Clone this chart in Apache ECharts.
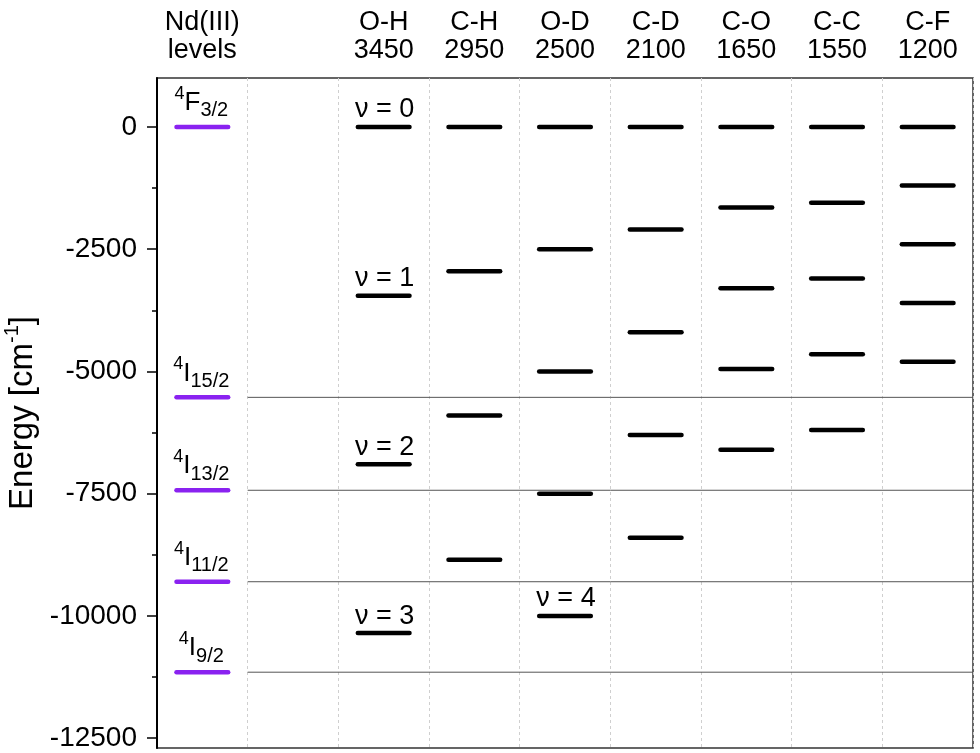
<!DOCTYPE html>
<html>
<head>
<meta charset="utf-8">
<script src="https://cdn.jsdelivr.net/npm/echarts@6/dist/echarts.min.js"></script>
<style>html,body{margin:0;padding:0;background:#fff}#c{width:980px;height:753px}</style>
</head>
<body>
<div id="c"></div>
<script>
// ---- data ----
const columnHeaders = ['Nd(III)\nlevels', '', 'O-H\n3450', 'C-H\n2950', 'O-D\n2500', 'C-D\n2100', 'C-O\n1650', 'C-C\n1550', 'C-F\n1200'];
const ndLevels = [0, -5530, -7430, -9300, -11150];
const ndTermSup = ['4', '4', '4', '4', '4'];
const ndTermLetter = ['F', 'I', 'I', 'I', 'I'];
const ndTermSub = ['3/2', '15/2', '13/2', '11/2', '9/2'];
const levelsOH = [0, -3450, -6900, -10350];
const levelsCH = [0, -2950, -5900, -8850];
const levelsOD = [0, -2500, -5000, -7500, -10000];
const levelsCD = [0, -2100, -4200, -6300, -8400];
const levelsCO = [0, -1650, -3300, -4950, -6600];
const levelsCC = [0, -1550, -3100, -4650, -6200];
const levelsCF = [0, -1200, -2400, -3600, -4800];
const labelsOH = ['ν = 0', 'ν = 1', 'ν = 2', 'ν = 3'];
const labelsOD = ['', '', '', '', 'ν = 4'];
const yMajorTicks = [0, -2500, -5000, -7500, -10000, -12500];
const yMinorTicks = [-1250, -3750, -6250, -8750, -11250];

const FONT = '"Liberation Sans", Arial, Helvetica, sans-serif';

// build vibrational level items: [column center, energy]
const vibGroups = [levelsOH, levelsCH, levelsOD, levelsCD, levelsCO, levelsCC, levelsCF];
const vibLabelGroups = [labelsOH, [], labelsOD, [], [], [], []];
const vibData = [];
const vibText = [];
vibGroups.forEach(function (arr, g) {
  arr.forEach(function (v, i) {
    vibData.push([g + 2.5, v]);
    vibText.push(vibLabelGroups[g][i] || '');
  });
});
const ndData = ndLevels.map(function (v) { return [0.5, v]; });

const chart = echarts.init(document.getElementById('c'), null, {renderer: 'canvas'});
chart.setOption({
  animation: false,
  backgroundColor: '#fff',
  grid: {left: 157, right: 7, top: 78, bottom: 5, show: true, borderColor: '#333', borderWidth: 1.5,
         containLabel: false, outerBoundsMode: 'none'},
  xAxis: [
    {
      type: 'value', min: 0, max: 9, splitNumber: 9,
      axisLine: {show: false}, axisTick: {show: false}, axisLabel: {show: false},
      splitLine: {show: true, lineStyle: {color: '#cfcfcf', type: [3, 3], width: 1}}
    },
    {
      type: 'category', position: 'top', data: columnHeaders, boundaryGap: true,
      axisLine: {show: false}, axisTick: {show: false}, splitLine: {show: false},
      axisLabel: {interval: 0, color: '#000', fontFamily: FONT, fontSize: 27, lineHeight: 28, margin: 13}
    }
  ],
  yAxis: [
    {
      type: 'value', min: -12700, max: 1000,
      name: '{a|Energy [cm}{s|-1}{a|]}', nameLocation: 'middle', nameGap: 112,
      nameTextStyle: {
        color: '#000',
        rich: {
          a: {fontFamily: FONT, fontSize: 33, lineHeight: 40, color: '#000'},
          s: {fontFamily: FONT, fontSize: 20, lineHeight: 22, verticalAlign: 'top', color: '#000'}
        }
      },
      axisLine: {show: true, lineStyle: {color: '#000', width: 2}},
      axisTick: {show: true, length: 10, customValues: yMajorTicks, lineStyle: {color: '#000', width: 1.5}},
      axisLabel: {customValues: yMajorTicks, color: '#000', fontFamily: FONT, fontSize: 28, margin: 20,
                  formatter: function (v) { return String(v); }},
      splitLine: {show: false}
    },
    {
      type: 'value', min: -12700, max: 1000, position: 'left',
      axisLine: {show: false},
      axisTick: {show: true, length: 5, customValues: yMinorTicks, lineStyle: {color: '#000', width: 1.5}},
      axisLabel: {show: false},
      splitLine: {show: false}
    }
  ],
  series: [
    {
      type: 'custom', name: 'Nd levels', xAxisIndex: 0, yAxisIndex: 0, data: ndData,
      renderItem: function (params, api) {
        const i = params.dataIndex;
        const x = api.value(0), y = api.value(1);
        const c = api.coord([x, y]);
        const w = api.size([1, 0])[0];
        const half = w * 0.285;
        const children = [];
        if (i > 0) {
          const a = api.coord([1, y]);
          const b = api.coord([9, y]);
          children.push({type: 'line', shape: {x1: a[0], y1: a[1], x2: b[0], y2: b[1]}, style: {stroke: '#555', lineWidth: 1}});
        }
        children.push({type: 'line', shape: {x1: c[0] - half, y1: c[1], x2: c[0] + half, y2: c[1]}, style: {stroke: '#8a22f0', lineWidth: 4.5, lineCap: 'round'}});
        children.push({
          type: 'text', x: c[0] - 1, y: c[1] - 24,
          style: {
            text: '{sup|' + ndTermSup[i] + '}{main|' + ndTermLetter[i] + '}{sub|' + ndTermSub[i] + '}',
            align: 'center', verticalAlign: 'middle', fill: '#000',
            rich: {
              sup: {fontFamily: FONT, fontSize: 18, lineHeight: 17, verticalAlign: 'top', fill: '#000'},
              main: {fontFamily: FONT, fontSize: 26, lineHeight: 36, fill: '#000'},
              sub: {fontFamily: FONT, fontSize: 20, lineHeight: 19, verticalAlign: 'bottom', fill: '#000'}
            }
          }
        });
        return {type: 'group', children: children};
      }
    },
    {
      type: 'custom', name: 'vibrations', xAxisIndex: 0, yAxisIndex: 0, data: vibData,
      renderItem: function (params, api) {
        const i = params.dataIndex;
        const c = api.coord([api.value(0), api.value(1)]);
        const w = api.size([1, 0])[0];
        const half = w * 0.285;
        const children = [
          {type: 'line', shape: {x1: c[0] - half, y1: c[1], x2: c[0] + half, y2: c[1]}, style: {stroke: '#000', lineWidth: 4.5, lineCap: 'round'}}
        ];
        if (vibText[i]) {
          children.push({type: 'text', x: c[0] + 1, y: c[1] - 17, style: {text: vibText[i], fill: '#000', font: '27px ' + FONT, align: 'center', verticalAlign: 'middle'}});
        }
        return {type: 'group', children: children};
      }
    }
  ]
});
</script>
</body>
</html>
